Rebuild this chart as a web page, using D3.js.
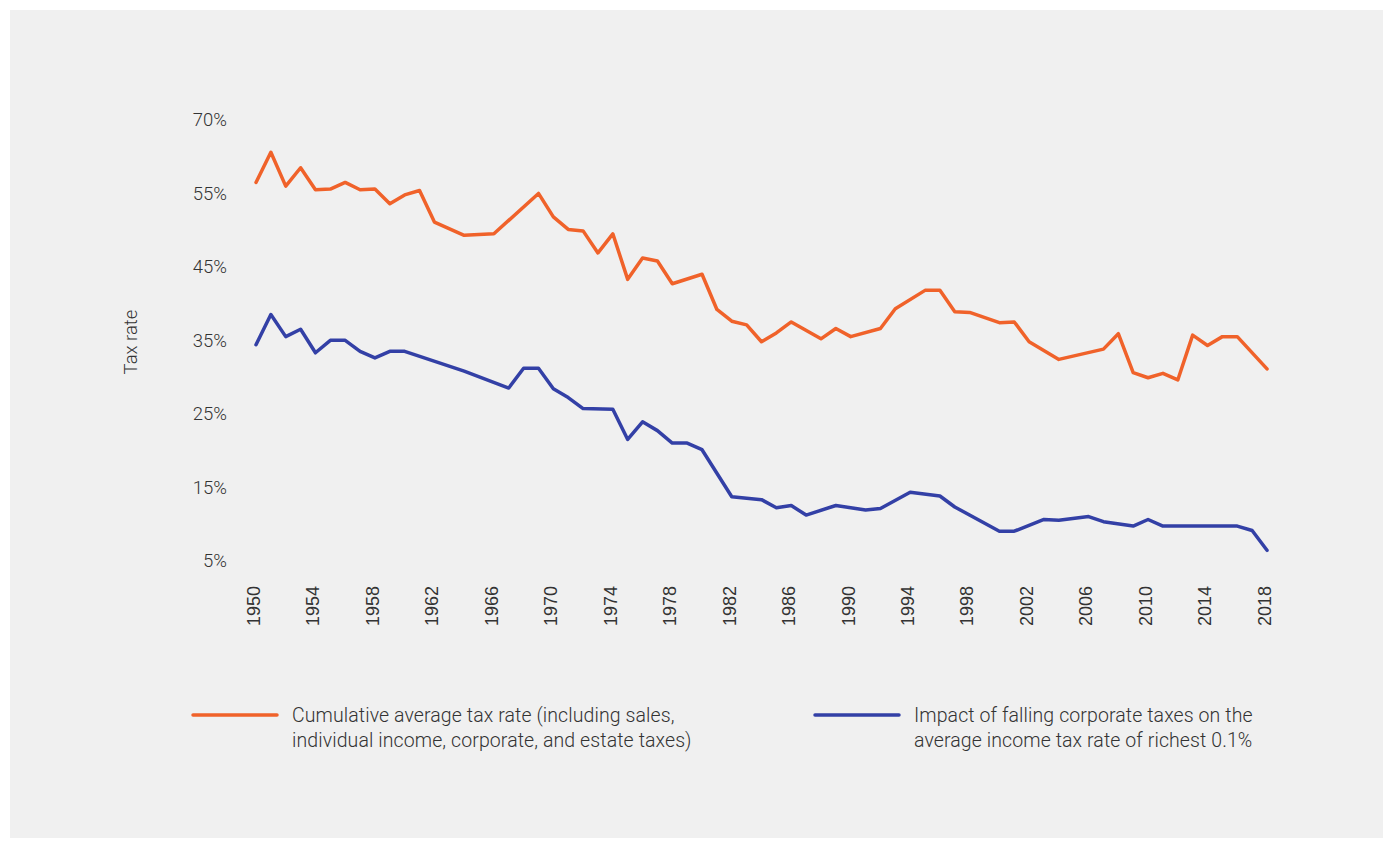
<!DOCTYPE html>
<html>
<head>
<meta charset="utf-8">
<script src="https://cdn.jsdelivr.net/npm/d3@7"></script>
<style>
  body { margin: 0; background: #fff; }
  svg { display: block; }
</style>
</head>
<body>
<div id="chart"></div>
<script>

// tax rate data
var cumYears = [1950,1951,1952,1953,1954,1955,1956,1957,1958,1959,1960,1961,1962,1964,1966,1969,1970,1971,1972,1973,1974,1975,1976,1977,1978,1980,1981,1982,1983,1984,1985,1986,1988,1989,1990,1992,1993,1995,1996,1997,1998,2000,2001,2002,2004,2007,2008,2009,2010,2011,2012,2013,2014,2015,2016,2018];
var cumRate  = [56.5,60.6,56.0,58.5,55.5,55.6,56.5,55.5,55.6,53.6,54.8,55.4,51.1,49.3,49.5,55.0,51.8,50.1,49.9,46.9,49.5,43.3,46.2,45.8,42.7,44.0,39.2,37.6,37.1,34.8,36.0,37.5,35.2,36.6,35.5,36.6,39.3,41.8,41.8,38.9,38.8,37.4,37.5,34.8,32.4,33.8,35.9,30.6,29.9,30.5,29.6,35.7,34.3,35.5,35.5,31.1];

var corpYears = [1950,1951,1952,1953,1954,1955,1956,1957,1958,1959,1960,1964,1967,1968,1969,1970,1971,1972,1974,1975,1976,1977,1978,1979,1980,1982,1984,1985,1986,1987,1989,1991,1992,1994,1996,1997,2000,2001,2003,2004,2006,2007,2009,2010,2011,2016,2017,2018];
var corpRate  = [34.4,38.5,35.5,36.5,33.3,35.0,35.0,33.5,32.6,33.5,33.5,30.8,28.5,31.2,31.2,28.4,27.2,25.7,25.6,21.5,23.9,22.7,21.0,21.0,20.1,13.7,13.3,12.2,12.5,11.2,12.5,11.9,12.1,14.3,13.8,12.3,9.0,9.0,10.6,10.5,11.0,10.3,9.7,10.6,9.7,9.7,9.1,6.4];

var seriesNames = ["Cumulative average tax rate (including sales,|individual income, corporate, and estate taxes)",
                   "Impact of falling corporate taxes on the|average income tax rate of richest 0.1%"];
var seriesColors = ["#f0622a", "#3340a6"];

var xTicks = [1950,1954,1958,1962,1966,1970,1974,1978,1982,1986,1990,1994,1998,2002,2006,2010,2014,2018];
var yTicks = [5,15,25,35,45,55,65];
var yTickLabels = ["5%","15%","25%","35%","45%","55%","70%"];

var W = 1389, H = 848;

var svg = d3.select("#chart").append("svg")
    .attr("width", W)
    .attr("height", H);

// grey panel
svg.append("rect")
  .attr("x", 10).attr("y", 10)
  .attr("width", 1373).attr("height", 828)
  .style("fill", "#f0f0f0");

var x = d3.scaleLinear().domain([1950, 2018]).range([256, 1267]);
var y = d3.scaleLinear().domain([5, 65]).range([560.6, 120]);

// y axis, labels only
var yAxis = svg.append("g")
  .attr("transform", "translate(231,0)")
  .call(d3.axisLeft(y).tickValues(yTicks).tickSize(0).tickPadding(4)
    .tickFormat(function(d,i){ return yTickLabels[i]; }));
yAxis.select(".domain").remove();
yAxis.selectAll("text")
  .style("font-family", "Roboto, sans-serif")
  .style("font-weight", 300)
  .style("font-size", "18.5px")
  .style("fill", "#333");

// x axis, rotated labels
var xAxis = svg.append("g")
  .attr("transform", "translate(0,582)")
  .call(d3.axisBottom(x).tickValues(xTicks).tickSize(0).tickPadding(0)
    .tickFormat(d3.format("d")));
xAxis.select(".domain").remove();
xAxis.selectAll("text")
  .attr("transform", "rotate(-90)")
  .attr("x", -4)
  .attr("y", -3)
  .attr("dy", "0.35em")
  .style("text-anchor", "end")
  .style("font-family", "'Liberation Sans', Arial, sans-serif")
  .style("font-size", "18px")
  .style("fill", "#333");

svg.append("text")
  .attr("transform", "translate(137,342) rotate(-90)")
  .style("text-anchor", "middle")
  .style("font-family", "Roboto, sans-serif")
  .style("font-weight", 300)
  .style("font-size", "18.5px")
  .style("fill", "#333")
  .text("Tax rate");

var line = d3.line()
  .x(function(d){ return x(d[0]); })
  .y(function(d){ return y(d[1]); });

var cumData = cumYears.map(function(yr,i){ return [yr, cumRate[i]]; });
var corpData = corpYears.map(function(yr,i){ return [yr, corpRate[i]]; });

[cumData, corpData].forEach(function(data, i) {
  svg.append("path")
    .datum(data)
    .attr("d", line)
    .style("fill", "none")
    .style("stroke", seriesColors[i])
    .style("stroke-width", 3.5)
    .style("stroke-linejoin", "round")
    .style("stroke-linecap", "round");
});

// legend
var legendX = [193, 815];
seriesNames.forEach(function(name, i) {
  var g = svg.append("g").attr("transform", "translate(" + legendX[i] + ",715)");
  g.append("line")
    .attr("x1", 0).attr("x2", 84)
    .attr("y1", 0).attr("y2", 0)
    .style("stroke", seriesColors[i])
    .style("stroke-width", 3.5)
    .style("stroke-linecap", "round");
  var t = g.append("text")
    .attr("x", 99).attr("y", 7)
    .style("font-family", "Roboto, sans-serif")
    .style("font-weight", 300)
    .style("font-size", "19.5px")
    .style("letter-spacing", "0.1px")
    .style("fill", "#333");
  name.split("|").forEach(function(s, j) {
    t.append("tspan").attr("x", 99).attr("dy", j ? 25 : 0).text(s);
  });
});

</script>
</body>
</html>
